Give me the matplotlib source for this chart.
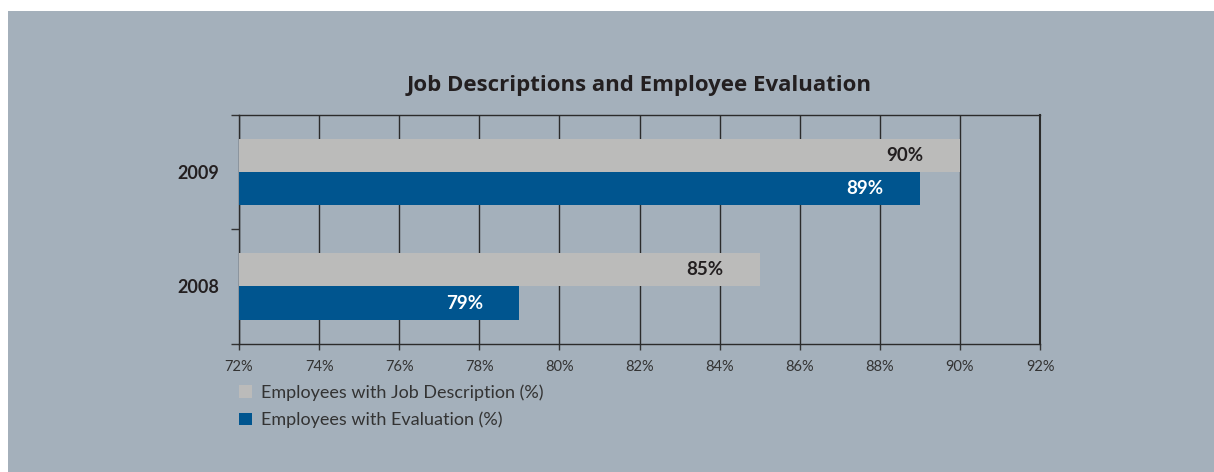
"""
Horizontal grouped bars: share of employees with a job description and with
an evaluation, 2008 vs 2009.
"""

import matplotlib.pyplot as plt
from matplotlib.patches import Rectangle

years = ["2008", "2009"]
job_description = [85, 90]
evaluation = [79, 89]
series_labels = ["Employees with Job Description (%)", "Employees with Evaluation (%)"]
x_ticks = [72, 74, 76, 78, 80, 82, 84, 86, 88, 90, 92]

PANEL = "#A4B0BB"
GREY = "#BBBBBA"
BLUE = "#00558F"
INK = "#231F20"

plt.rcParams["font.family"] = ["Lato", "DejaVu Sans"]

fig = plt.figure(figsize=(12.14, 4.72), dpi=100, facecolor="white")
fig.patches.append(
    Rectangle((8 / 1214, 0), 1, (472 - 11) / 472, transform=fig.transFigure,
              facecolor=PANEL, edgecolor="none", zorder=-10)
)

ax = fig.add_axes([239 / 1214, 1 - 343.7 / 472, (1040 - 239) / 1214, (343.7 - 114.5) / 472])
ax.set_facecolor(PANEL)

bar_h = 0.29
pos = list(range(len(years)))
grey_bars = ax.barh([p + bar_h / 2 for p in pos], [v - 72 for v in job_description],
                    left=72, height=bar_h, color=GREY, zorder=3, label=series_labels[0])
blue_bars = ax.barh([p - bar_h / 2 for p in pos], [v - 72 for v in evaluation],
                    left=72, height=bar_h, color=BLUE, zorder=3, label=series_labels[1])

# value labels sit inside each bar, near its end
label_font = dict(fontsize=13.5, fontweight="bold")
for p, v in zip(pos, job_description):
    ax.annotate(f"{v}%", (v, p + bar_h / 2), xytext=(-55, 0), textcoords="offset pixels",
                ha="center", va="center", color=INK, zorder=4, **label_font)
for p, v in zip(pos, evaluation):
    ax.annotate(f"{v}%", (v, p - bar_h / 2), xytext=(-55, 0), textcoords="offset pixels",
                ha="center", va="center", color="white", zorder=4, **label_font)

ax.set_xlim(72, 92)
ax.set_ylim(-0.5, 1.5)
ax.set_xticks(x_ticks)
ax.set_xticklabels([f"{t}%" for t in x_ticks], fontsize=10.5, color="#333333")
ax.tick_params(axis="x", length=4, width=1, color="#333333", pad=8)

ax.set_yticks(pos)
ax.set_yticklabels(years, fontsize=13, fontweight="bold", color=INK)
ax.tick_params(axis="y", which="major", length=0, pad=14)
ax.set_yticks([-0.5, 0.5, 1.5], minor=True)
ax.tick_params(axis="y", which="minor", length=6, width=1, color="#333333")

ax.grid(axis="x", color="#2B2B2B", linewidth=1, zorder=1)
ax.set_axisbelow(True)
for side in ["top", "bottom", "left", "right"]:
    ax.spines[side].set_color("#2B2B2B")
    ax.spines[side].set_linewidth(1)
ax.spines["right"].set_linewidth(1.5)

ax.set_title("Job Descriptions and Employee Evaluation", fontsize=16, fontweight="bold",
             color=INK, pad=17, family=["Open Sans", "DejaVu Sans"])

ax.legend(handles=[grey_bars, blue_bars], loc="upper left",
          bbox_to_anchor=(223 / 1214, 1 - 368 / 472), bbox_transform=fig.transFigure,
          frameon=False, fontsize=13, labelcolor="#333333", handlelength=0.7,
          handleheight=0.7, handletextpad=0.5, labelspacing=0.6)

fig.savefig("out.png", dpi=100, facecolor="white")
